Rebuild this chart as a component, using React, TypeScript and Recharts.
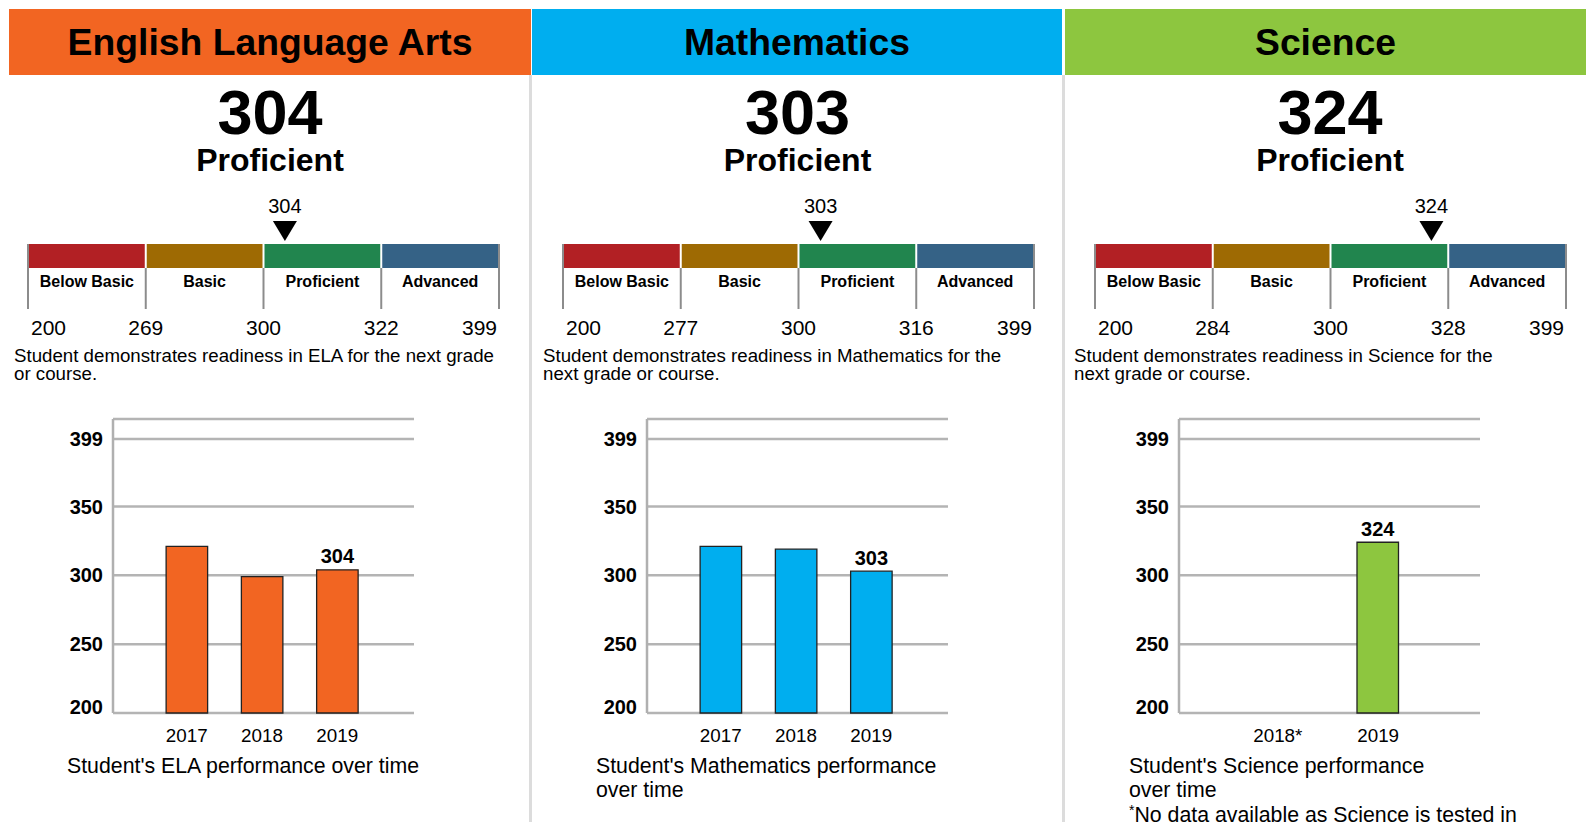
import React from "react";
import { BarChart, Bar, XAxis, YAxis, CartesianGrid, ReferenceDot, LabelList } from "recharts";

const FONT = "Arial, 'Liberation Sans', Helvetica, sans-serif";

// subjects
const subjectTitles = ["English Language Arts", "Mathematics", "Science"];
const subjectColors = ["#F26522", "#00AEEF", "#8DC63F"];
const subjectScores = [304, 303, 324];
const subjectLevels = ["Proficient", "Proficient", "Proficient"];
const subjectDescriptions = [
  "Student demonstrates readiness in ELA for the next grade or course.",
  "Student demonstrates readiness in Mathematics for the next grade or course.",
  "Student demonstrates readiness in Science for the next grade or course.",
];
const subjectCaptions = [
  "Student's ELA performance over time",
  "Student's Mathematics performance over time",
  "Student's Science performance over time",
];

// performance levels
const levelNames = ["Below Basic", "Basic", "Proficient", "Advanced"];
const levelColors = ["#B22024", "#9E6A03", "#21854E", "#356286"];
const elaCuts = [200, 269, 300, 322, 399];
const mathCuts = [200, 277, 300, 316, 399];
const sciCuts = [200, 284, 300, 328, 399];

// history
const elaYears = ["2017", "2018", "2019"];
const elaHistory = [321, 299, 304];
const mathYears = ["2017", "2018", "2019"];
const mathHistory = [321, 319, 303];
const sciYears = ["2018*", "2019"];
const sciHistory = [null, 324];
const yTicks = [200, 250, 300, 350, 399];

const sciFootnote = "No data available as Science is tested in";

// layout per panel
const layout = [
  { headerX: 9, headerW: 522, centerX: 270, scaleX: 28, descX: 14, descW: 490, axisX: 112.6, captionX: 67, captionW: 362 },
  { headerX: 532, headerW: 530, centerX: 797.5, scaleX: 562.5, descX: 543, descW: 475, axisX: 647, captionX: 596, captionW: 362 },
  { headerX: 1065, headerW: 521, centerX: 1330, scaleX: 1095, descX: 1074, descW: 430, axisX: 1179, captionX: 1129, captionW: 330 },
];

const SCALE_W = 471;
const SCALE_H = 65;
const BAND_H = 24;
const LINE_GRAY = "#8c8c8c";

function LevelSegment(props: any) {
  const { x, y, width, height, idx } = props;
  const last = idx === levelNames.length - 1;
  return (
    <g>
      <rect x={x + 1} y={y} width={width - 2} height={BAND_H} fill={levelColors[idx]} />
      <line x1={x} x2={x} y1={idx === 0 ? y : y + BAND_H} y2={y + height} stroke={LINE_GRAY} strokeWidth={2} />
      {last && <line x1={x + width} x2={x + width} y1={y} y2={y + height} stroke={LINE_GRAY} strokeWidth={2} />}
      <text x={x + width / 2} y={y + 42.7} textAnchor="middle" fontSize={16} fontWeight="bold" fill="#000">
        {levelNames[idx]}
      </text>
    </g>
  );
}

function Pointer(props: any) {
  const { cx, cy, score } = props;
  const top = cy - SCALE_H / 2;
  return (
    <g>
      <text x={cx} y={top - 30.8} textAnchor="middle" fontSize={20} fill="#000">
        {score}
      </text>
      <path d={`M${cx - 12},${top - 23} L${cx + 12},${top - 23} L${cx},${top - 3} Z`} fill="#000" />
    </g>
  );
}

function LevelScale({ left, cuts, score }: { left: number; cuts: number[]; score: number }) {
  let seg = 0;
  for (let i = 0; i < cuts.length - 1; i++) if (score >= cuts[i]) seg = i;
  const pos = seg + (score - cuts[seg]) / (cuts[seg + 1] - cuts[seg]);
  const row = [{ name: "level", b0: 1, b1: 1, b2: 1, b3: 1 }];
  const m = { top: 54, right: 12, bottom: 0, left: 12 };
  const renderTick = (p: any) => {
    const i = p.index;
    const anchor = i === 0 ? "start" : i === cuts.length - 1 ? "end" : "middle";
    const dx = i === 0 ? 3 : i === cuts.length - 1 ? -2 : 0;
    return (
      <text x={p.x + dx} y={p.y + 25.5} textAnchor={anchor} fontSize={21} fill="#000">
        {cuts[i]}
      </text>
    );
  };
  return (
    <div style={{ position: "absolute", left: left - m.left, top: 244 - m.top }}>
      <BarChart
        layout="vertical"
        width={SCALE_W + m.left + m.right}
        height={m.top + SCALE_H + 34}
        data={row}
        margin={m}
        barCategoryGap="0%"
        barGap={0}
        style={{ fontFamily: FONT }}
      >
        <XAxis
          type="number"
          domain={[0, 4]}
          ticks={[0, 1, 2, 3, 4]}
          interval={0}
          height={34}
          axisLine={false}
          tickLine={false}
          tickSize={0}
          tickMargin={0}
          tick={renderTick}
        />
        <YAxis type="category" dataKey="name" hide />
        {levelNames.map((n, i) => (
          <Bar
            key={n}
            dataKey={`b${i}`}
            stackId="lvl"
            isAnimationActive={false}
            shape={(p: any) => <LevelSegment {...p} idx={i} />}
          />
        ))}
        <ReferenceDot x={pos} y="level" shape={(p: any) => <Pointer cx={p.cx} cy={p.cy} score={score} />} />
      </BarChart>
    </div>
  );
}

function History({ left, years, scores, color }: { left: number; years: string[]; scores: (number | null)[]; color: string }) {
  const lastIdx = years.length - 1;
  const data = years.map((year, i) => ({ year, score: scores[i], label: i === lastIdx ? scores[i] : null }));
  const W = 301;
  const yW = 60;
  const pad = W / (2 * (years.length + 1));
  return (
    <div style={{ position: "absolute", left: left - yW, top: 419 - 10 }}>
      <BarChart
        width={yW + W + 10}
        height={10 + 294 + 40}
        data={data}
        margin={{ top: 10, right: 10, left: 0, bottom: 0 }}
        style={{ fontFamily: FONT }}
      >
        <CartesianGrid vertical={false} stroke="#b4b4b4" strokeWidth={2.5} />
        <XAxis
          dataKey="year"
          padding={{ left: pad - 1.5, right: pad + 1.5 }}
          axisLine={false}
          tickLine={false}
          tickSize={0}
          tickMargin={0}
          height={40}
          interval={0}
          tick={(p: any) => (
            <text x={p.x} y={p.y + 28.6} textAnchor="middle" fontSize={18.8} fill="#000">
              {p.payload.value}
            </text>
          )}
        />
        <YAxis
          type="number"
          domain={[200, 399]}
          ticks={yTicks}
          interval={0}
          width={yW}
          padding={{ top: 20, bottom: 0 }}
          axisLine={{ stroke: "#b0b0b0", strokeWidth: 2.5 }}
          tickLine={false}
          tickSize={0}
          tickMargin={10}
          tick={(p: any) => (
            <text
              x={p.x}
              y={p.y + 7.1 - (p.payload.value === 200 ? 6 : 0)}
              textAnchor="end"
              fontSize={20}
              fontWeight="bold"
              fill="#000"
            >
              {p.payload.value}
            </text>
          )}
        />
        <Bar dataKey="score" fill={color} stroke="#222" strokeWidth={1.3} barSize={41.5} isAnimationActive={false}>
          <LabelList
            dataKey="label"
            content={(p: any) =>
              p.value != null ? (
                <text x={p.x + p.width / 2} y={p.y - 6.5} textAnchor="middle" fontSize={20} fontWeight="bold" fill="#000">
                  {p.value}
                </text>
              ) : null
            }
          />
        </Bar>
      </BarChart>
    </div>
  );
}

const cutsBySubject = [elaCuts, mathCuts, sciCuts];
const yearsBySubject = [elaYears, mathYears, sciYears];
const historyBySubject = [elaHistory, mathHistory, sciHistory];

export default function App() {
  return (
    <div
      style={{
        position: "absolute",
        left: 0,
        top: 0,
        width: 1590,
        height: 822,
        overflow: "hidden",
        background: "#fff",
        fontFamily: FONT,
        color: "#000",
      }}
    >
      <div style={{ position: "absolute", left: 529, top: 75, width: 3, height: 760, background: "#dcdcdc" }} />
      <div style={{ position: "absolute", left: 1062, top: 75, width: 3, height: 760, background: "#dcdcdc" }} />
      {subjectTitles.map((title, k) => {
        const L = layout[k];
        return (
          <React.Fragment key={title}>
            <div
              style={{
                position: "absolute",
                left: L.headerX,
                top: 9,
                width: L.headerW,
                height: 66,
                background: subjectColors[k],
                textAlign: "center",
                fontSize: 37.3,
                fontWeight: "bold",
                lineHeight: "66px",
                whiteSpace: "nowrap",
              }}
            >
              {title}
            </div>
            <div
              style={{
                position: "absolute",
                left: L.centerX - 150,
                width: 300,
                top: 80,
                textAlign: "center",
                fontSize: 63,
                fontWeight: "bold",
                lineHeight: "64px",
              }}
            >
              {subjectScores[k]}
            </div>
            <div
              style={{
                position: "absolute",
                left: L.centerX - 150,
                width: 300,
                top: 144,
                textAlign: "center",
                fontSize: 32,
                fontWeight: "bold",
                lineHeight: "32px",
              }}
            >
              {subjectLevels[k]}
            </div>
            <LevelScale left={L.scaleX} cuts={cutsBySubject[k]} score={subjectScores[k]} />
            <div
              style={{
                position: "absolute",
                left: L.descX,
                top: 346.5,
                width: L.descW,
                fontSize: 18.7,
                lineHeight: "18.3px",
              }}
            >
              {subjectDescriptions[k]}
            </div>
            <History left={L.axisX} years={yearsBySubject[k]} scores={historyBySubject[k]} color={subjectColors[k]} />
            <div
              style={{
                position: "absolute",
                left: L.captionX,
                top: 754,
                width: L.captionW,
                fontSize: 21.3,
                lineHeight: "24px",
              }}
            >
              {subjectCaptions[k]}
            </div>
          </React.Fragment>
        );
      })}
      <div
        style={{
          position: "absolute",
          left: layout[2].captionX,
          top: 803,
          fontSize: 21.3,
          lineHeight: "24px",
          whiteSpace: "nowrap",
        }}
      >
        <span style={{ fontSize: 14, verticalAlign: "top", lineHeight: "14px" }}>*</span>
        {sciFootnote}
      </div>
    </div>
  );
}
